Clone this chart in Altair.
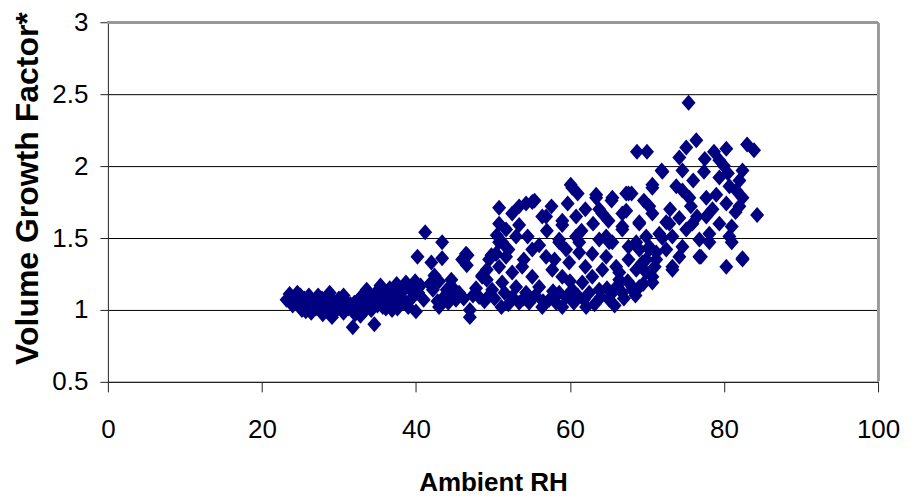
import altair as alt
import pandas as pd

# Ambient RH (x) and Volume Growth Factor (y)
rh_low = [23.2,23.6,24.0,24.3,24.6,24.9,25.2,25.5,25.8,26.1,26.4,26.7,27.0,27.3,27.6,27.9,28.2,28.5,28.8,29.1,
          29.4,29.7,30.0,30.3,30.6,30.9,31.2,31.5,31.8,32.1,32.4,32.7,33.0,33.3,33.6,33.9,34.2,34.6,34.8,35.1,
          35.4,35.7,36.0,36.3,36.6,36.9,37.2,37.5,37.8,38.1,38.4,38.7,39.0,39.3,39.6,39.9,40.0,40.3,40.6,41.0,
          23.9,25.0,26.0,27.1,28.0,29.0,30.2,31.0,32.0,33.1,34.0,35.0,36.1,37.0,38.0,39.0,37.6,35.8,34.4,30.6,
          27.8,25.7,28.9,32.8]
gf_low = [1.07,1.11,1.03,1.09,1.12,1.05,1.00,1.08,1.03,1.10,0.98,1.06,1.01,1.10,1.04,0.97,1.07,1.01,1.12,0.95,
          1.05,1.00,1.08,1.03,0.98,1.06,1.01,1.04,0.88,0.97,1.06,1.02,1.10,0.99,1.14,1.05,1.00,0.90,1.12,1.07,
          1.17,1.02,1.10,1.05,1.15,1.00,1.08,1.18,1.04,1.12,1.07,1.19,1.02,1.14,1.09,1.20,0.99,1.12,1.17,1.07,
          1.06,1.10,1.04,1.07,1.02,1.04,1.05,1.03,1.05,1.04,1.08,1.03,1.01,1.12,1.09,1.16,1.01,1.13,1.04,1.10,
          1.08,0.99,1.00,0.96]

rh_mid = [40.2,41.2,42.0,42.4,43.4,43.4,42.8,41.8,42.2,43.0,43.8,44.2,44.6,44.7,45.2,45.6,46.0,46.5,46.7,46.6,
          47.0,47.0,47.4,47.8,48.2,48.6,48.6,49.2,49.2,49.5,49.8,49.9,50.4,50.5,44.0,45.0,46.2,48.9,49.5,43.0]
gf_mid = [1.37,1.54,1.33,1.24,1.47,1.36,1.06,1.18,1.14,1.20,1.10,1.05,1.21,1.16,1.07,1.12,1.35,1.39,1.38,1.31,
          0.95,1.00,1.10,1.15,1.09,1.24,1.23,1.21,1.28,1.35,1.38,1.14,1.39,1.52,1.14,1.10,1.08,1.06,1.10,1.02]

rh_hum = [50.8,52.5,54.3,55.1,53.4,51.7,54.5,50.8,56.9,57.6,59.7,60.3,61.0,60.8,59.0,58.6,61.2,63.4,65.4,63.8,
          64.7,65.5,68.0,67.3,66.8,69.0,69.6,70.7,68.6,70.3,70.7,
          50.4,51.7,55.1,56.9,53.8,52.5,50.8,51.2,51.1,52.5,54.3,56.0,55.1,57.7,59.0,59.9,61.2,58.6,57.3,59.0,
          56.4,54.7,53.4,60.3,61.6,62.1,62.9,64.2,63.8,65.1,66.4,66.8,68.1,68.6,64.7,62.9,69.9,
          60.1,63.4,67.3,55.4,53.4,56.4,59.0,64.2,50.8,53.0,51.2,58.6,60.8,63.8,65.5,67.6,66.8,70.7,69.0,66.8,
          65.1,67.6,69.9,71.2,69.0,69.4,66.0,67.6,70.7,66.4,68.1,65.5,
          50.2,51.5,52.0,53.0,54.0,55.5,56.5,57.8,58.2,59.5,60.5,61.0,61.8,62.5,63.2,64.0,64.8,65.8,66.2,67.0,
          67.5,68.5,69.5,60.0,62.0,58.0,57.0,56.0,52.0,54.0,63.0,61.5,59.5,65.0,62.0]
gf_hum = [1.71,1.67,1.74,1.75,1.59,1.56,1.51,1.47,1.65,1.72,1.74,1.85,1.81,1.65,1.59,1.49,1.47,1.78,1.76,1.70,
          1.51,1.47,1.81,1.69,1.58,1.61,1.76,1.87,1.47,1.42,1.19,
          1.39,1.37,1.42,1.37,1.30,1.26,1.30,1.19,1.02,1.09,1.12,1.16,1.23,1.28,1.23,1.33,1.40,1.12,1.07,1.02,
          1.02,1.05,1.05,1.14,1.19,1.02,1.23,1.28,1.14,1.07,1.26,1.12,1.16,1.28,1.37,1.39,1.35,
          1.87,1.80,1.81,1.76,1.72,1.65,1.62,1.67,1.60,1.51,1.47,1.47,1.51,1.49,1.78,1.81,1.67,1.67,1.60,1.56,
          1.47,1.44,1.51,1.40,1.42,1.33,1.30,1.35,1.23,1.21,1.14,1.12,
          1.08,1.12,1.04,1.16,1.08,1.10,1.06,1.13,1.05,1.09,1.05,1.10,1.07,1.12,1.04,1.09,1.15,1.03,1.17,1.08,
          1.20,1.10,1.18,1.20,1.30,1.35,1.55,1.45,1.42,1.35,1.60,1.55,1.42,1.62,1.70]

rh_high = [75.4,76.4,75.1,74.2,78.7,80.3,83.0,83.9,79.4,77.4,80.0,82.4,72.0,68.7,70.0,74.6,74.6,70.7,73.8,75.5,
           77.7,79.4,80.7,82.4,81.6,84.3,82.0,80.3,75.7,74.2,77.7,79.4,81.0,75.9,72.5,70.3,71.6,73.3,75.1,78.1,
           80.7,81.0,76.8,74.6,78.1,72.5,70.3,71.2,74.2,77.0,82.4,80.3,73.3,69.0,69.9,72.9,71.9,76.8,82.4,73.3,
           78.5,81.5,76.0,77.5,79.0,73.0,76.5,80.5,82.0,72.0,71.0]
gf_high = [2.44,2.18,2.13,2.06,2.10,2.12,2.15,2.11,2.04,1.96,2.00,1.97,1.96,2.10,2.10,1.97,1.83,1.85,1.86,1.78,
           1.78,1.92,1.86,1.78,1.83,1.66,1.72,1.74,1.72,1.64,1.65,1.60,1.58,1.60,1.61,1.72,1.53,1.51,1.56,1.53,
           1.51,1.47,1.49,1.44,1.47,1.42,1.44,1.35,1.37,1.37,1.36,1.30,1.28,1.16,1.26,1.60,1.97,1.37,1.35,1.30,
           1.70,1.68,1.90,2.05,1.80,1.70,1.65,1.95,1.90,1.50,1.30]

x_ticks = [0, 20, 40, 60, 80, 100]
y_ticks = [0.5, 1, 1.5, 2, 2.5, 3]

df = pd.DataFrame({
    "rh": rh_low + rh_mid + rh_hum + rh_high,
    "gf": gf_low + gf_mid + gf_hum + gf_high,
})

FONT = "Liberation Sans, Arial, Helvetica, sans-serif"
diamond = "M0,-1L0.875,0L0,1L-0.875,0Z"

points = alt.Chart(df).mark_point(
    shape=diamond, filled=True, color="#000080", opacity=1, size=256, strokeWidth=0
).encode(
    x=alt.X("rh:Q", scale=alt.Scale(domain=[0, 100], nice=False, zero=False),
            axis=alt.Axis(values=x_ticks, title="Ambient RH", grid=False,
                          tickSize=10, labelPadding=46, labelBaseline="alphabetic",
                          labelFont=FONT, labelFontSize=26,
                          titleFont=FONT, titleFontSize=26, titleFontWeight="bold",
                          titleBaseline="alphabetic", titleY=109, titleX=385.5, titleAlign="center")),
    y=alt.Y("gf:Q", scale=alt.Scale(domain=[0.5, 3], nice=False, zero=False),
            axis=alt.Axis(values=y_ticks, format="~g", title="Volume Growth Factor*", grid=True,
                          gridColor="#000000", gridWidth=1, gridOpacity=1,
                          tickSize=8, labelPadding=12, labelBaseline="middle",
                          labelFont=FONT, labelFontSize=26,
                          titleFont=FONT, titleFontSize=32, titleFontWeight="bold",
                          titleAngle=270, titleBaseline="alphabetic", titleX=-70, titleY=166,
                          titleAlign="center")),
)

top_border = alt.Chart(df).mark_rule(color="#999999", strokeWidth=2).encode(y=alt.datum(3))
right_border = alt.Chart(df).mark_rule(color="#999999", strokeWidth=2).encode(x=alt.datum(100))

chart = alt.layer(points, top_border, right_border).properties(
    width=771, height=360,
    autosize=alt.AutoSizeParams(type="none"),
    padding={"left": 100, "top": 14, "right": 30, "bottom": 116},
).configure_view(stroke=None).configure_axis(
    domainColor="#222222", domainWidth=1, tickColor="#222222", tickWidth=1,
    labelColor="#000000", titleColor="#000000", labelFlush=False, labelOverlap=False,
)

chart.save("out.html", embed_options={"renderer": "svg", "actions": False})
